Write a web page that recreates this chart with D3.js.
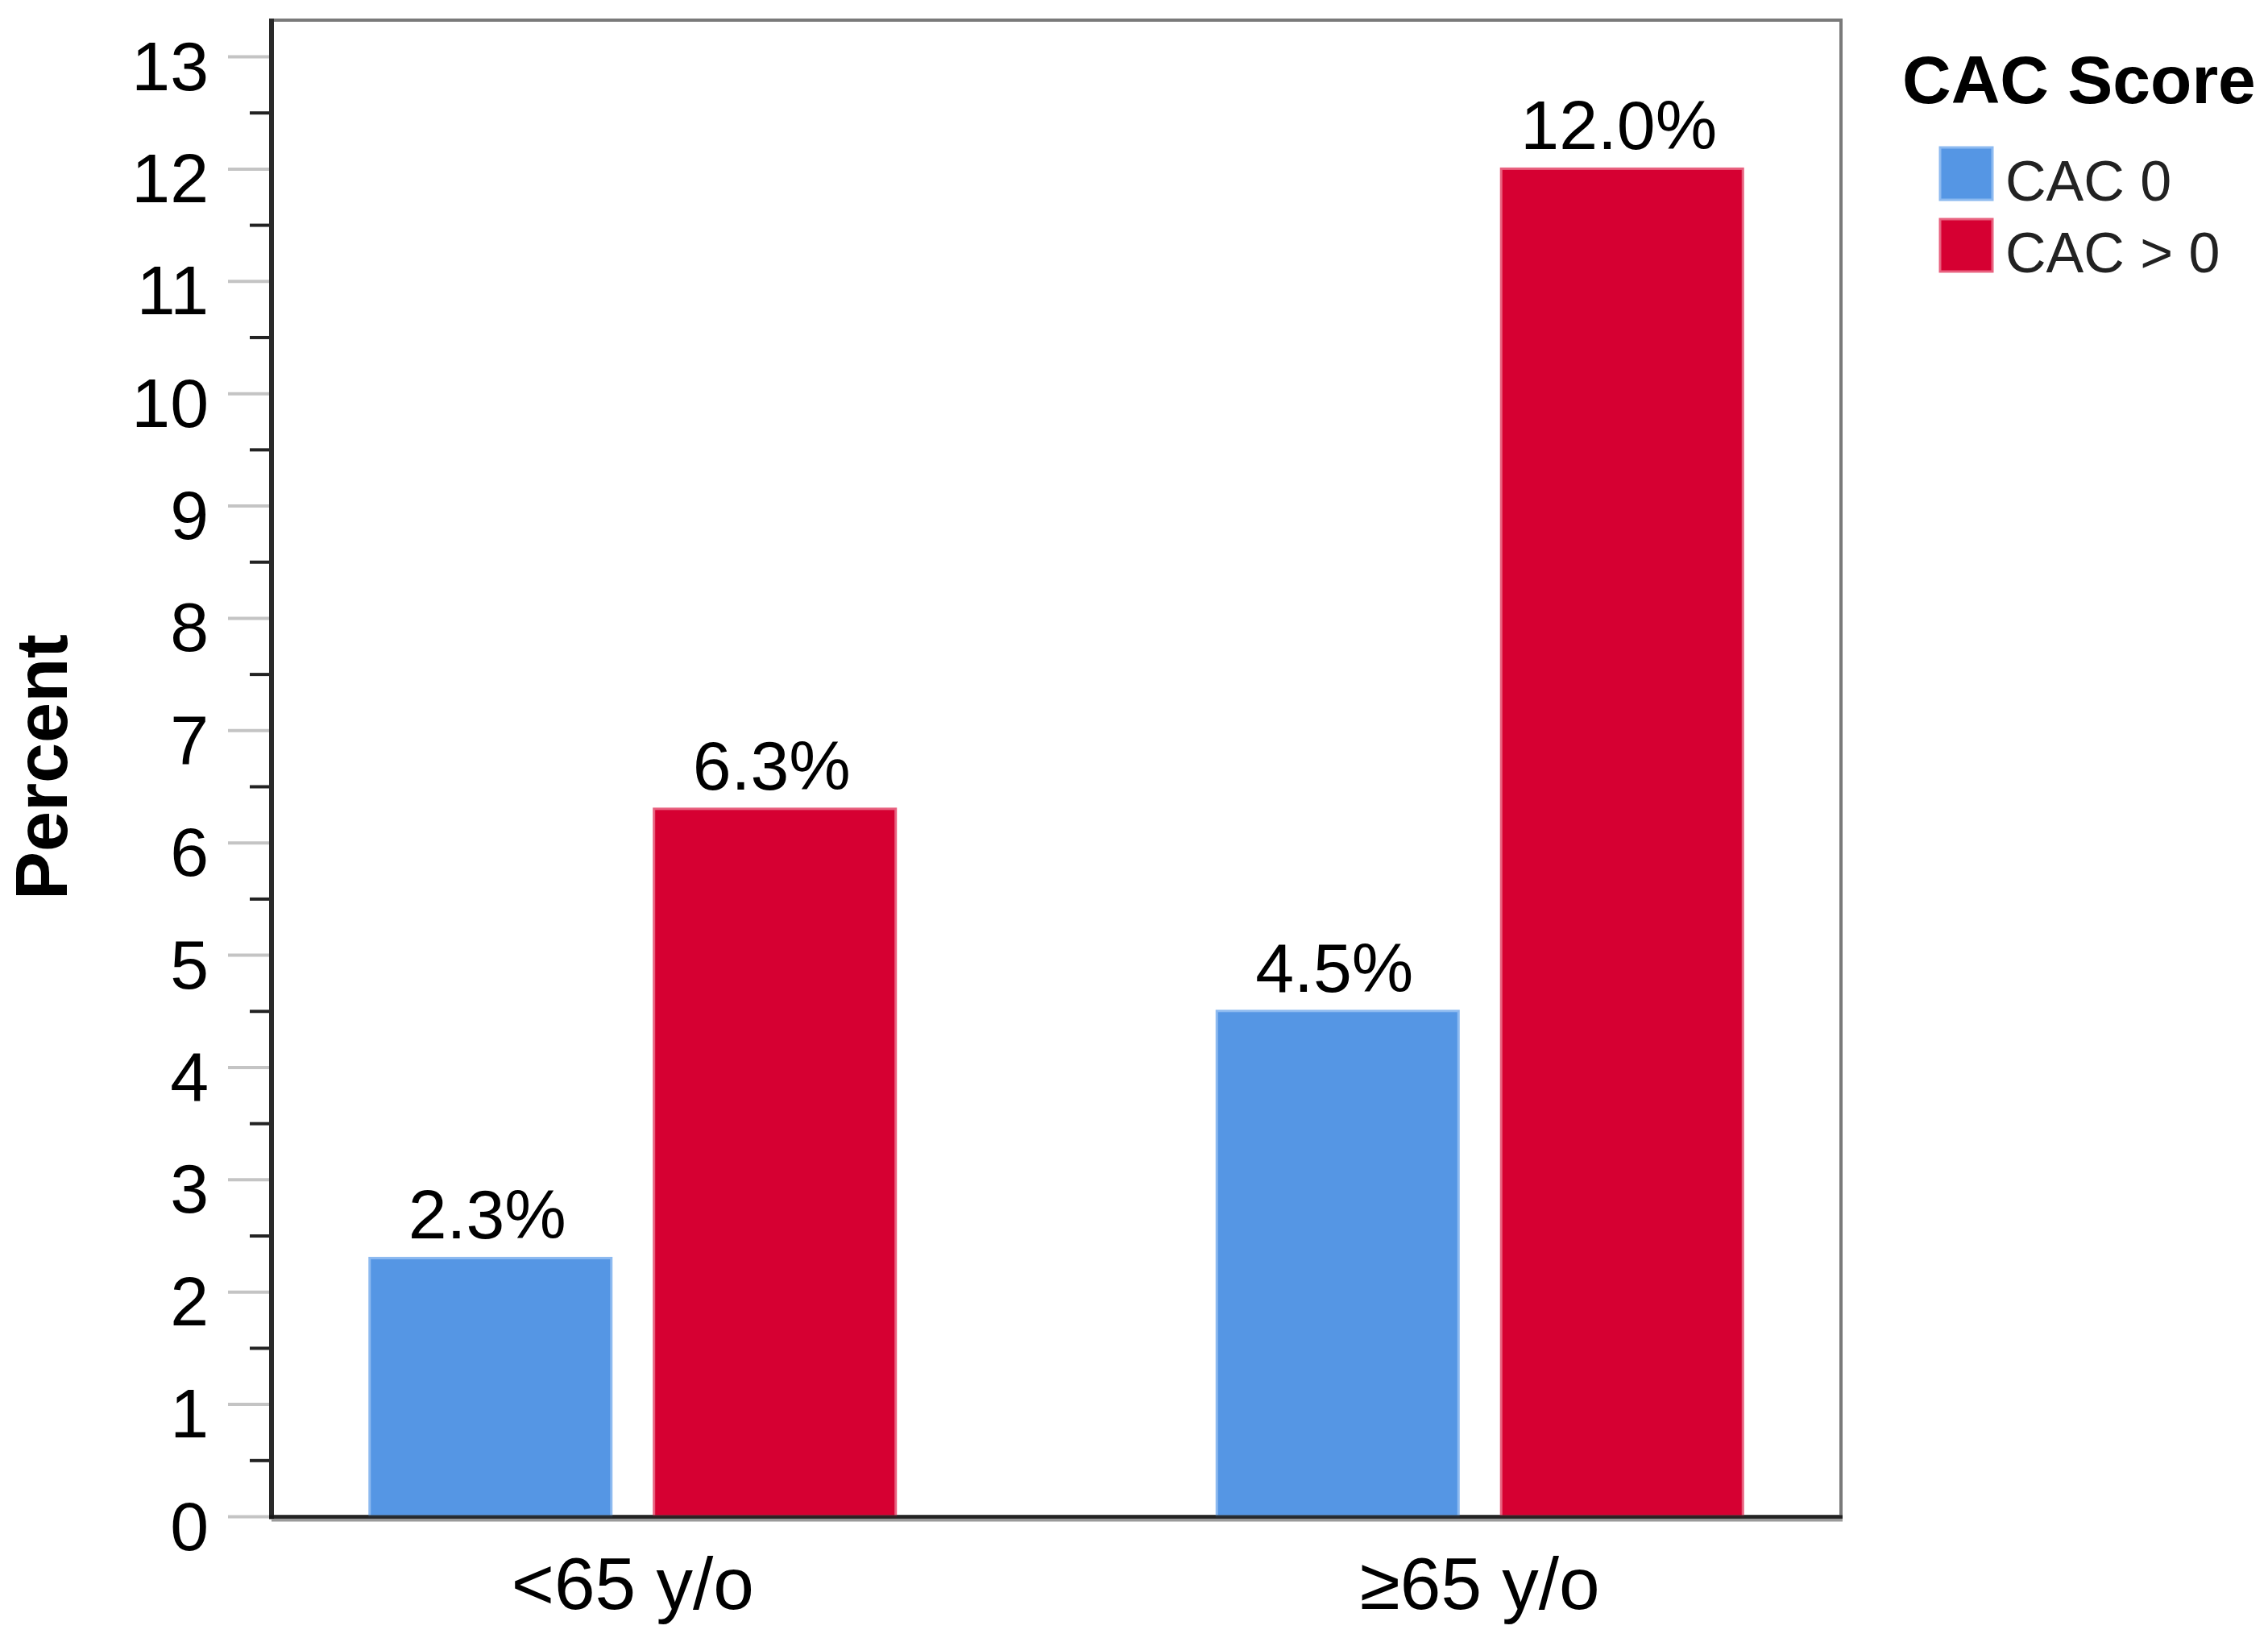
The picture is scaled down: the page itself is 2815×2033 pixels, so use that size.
<!DOCTYPE html>
<html>
<head>
<meta charset="utf-8">
<script src="https://cdn.jsdelivr.net/npm/d3@7"></script>
<style>
  html, body { margin: 0; padding: 0; background: #ffffff; }
  svg { display: block; }
  text { font-family: "Liberation Sans", Arial, sans-serif; }
</style>
</head>
<body>
<svg id="chart" width="2815" height="2033"></svg>
<script>
// ---- data ----
const categories = ["<65 y/o", "≥65 y/o"];
const seriesNames = ["CAC 0", "CAC > 0"];
const cac0Values = [2.3, 4.5];
const cacPositiveValues = [6.3, 12.0];
const majorTicks = [0,1,2,3,4,5,6,7,8,9,10,11,12,13];
const minorTicks = [0.5,1.5,2.5,3.5,4.5,5.5,6.5,7.5,8.5,9.5,10.5,11.5,12.5];
const legendTitle = "CAC Score";
const yTitle = "Percent";

const seriesValues = [cac0Values, cacPositiveValues];
const fills = ["#5596E4", "#D60032"];
const edges = ["#8DBAF0", "#E8617F"];

const svg = d3.select("#chart");
const W = 2815, H = 2033;
svg.append("rect").attr("width", W).attr("height", H).attr("fill", "#fff");

const plot = { left: 337, right: 2285, top: 25, bottom: 1882 };

const y = d3.scaleLinear().domain([0, 13]).range([plot.bottom, 70]);
const x0 = d3.scaleBand().domain(categories)
  .range([plot.left, plot.right]).paddingInner(0.379).paddingOuter(0.1158);
const x1 = d3.scaleBand().domain(seriesNames)
  .range([0, x0.bandwidth()]).paddingInner(0.15).paddingOuter(0);
const color = d3.scaleOrdinal().domain(seriesNames).range(fills);
const edge = d3.scaleOrdinal().domain(seriesNames).range(edges);

const data = [];
categories.forEach((c, i) => {
  seriesNames.forEach((s, j) => {
    data.push({ cat: c, series: s, value: seriesValues[j][i] });
  });
});

// frame (top/right border)
svg.append("rect")
  .attr("x", plot.left).attr("y", plot.top)
  .attr("width", plot.right - plot.left).attr("height", plot.bottom - plot.top)
  .attr("fill", "none").attr("stroke", "#7a7a7a").attr("stroke-width", 4);

// bars
svg.append("g").selectAll("rect").data(data).join("rect")
  .attr("x", d => x0(d.cat) + x1(d.series))
  .attr("y", d => y(d.value))
  .attr("width", x1.bandwidth())
  .attr("height", d => y(0) - y(d.value))
  .attr("fill", d => color(d.series))
  .attr("stroke", d => edge(d.series))
  .attr("stroke-width", 3);

// value labels
svg.append("g").selectAll("text").data(data).join("text")
  .attr("x", d => x0(d.cat) + x1(d.series) + x1.bandwidth() / 2 - 4)
  .attr("y", d => y(d.value) - 24)
  .attr("text-anchor", "middle")
  .attr("font-size", 86)
  .attr("fill", "#000")
  .text(d => d.value.toFixed(1) + "%");

// y axis major ticks
const yAxisG = svg.append("g")
  .attr("transform", `translate(${plot.left},0)`)
  .call(d3.axisLeft(y).tickValues(majorTicks).tickSize(54).tickPadding(24).tickFormat(d3.format("d")));
yAxisG.select(".domain").remove();
yAxisG.selectAll(".tick line").attr("stroke", "#c4c4c4").attr("stroke-width", 4);
yAxisG.selectAll(".tick text")
  .attr("font-size", 86).attr("fill", "#000")
  .attr("font-family", "'Liberation Sans', Arial, sans-serif")
  .attr("dy", 41);

// y axis minor ticks
const yMinorG = svg.append("g")
  .attr("transform", `translate(${plot.left},0)`)
  .call(d3.axisLeft(y).tickValues(minorTicks).tickSize(27).tickFormat(""));
yMinorG.select(".domain").remove();
yMinorG.selectAll(".tick line").attr("stroke", "#222").attr("stroke-width", 4);

// x axis labels
const xAxisG = svg.append("g")
  .attr("transform", `translate(0,${plot.bottom})`)
  .call(d3.axisBottom(x0).tickSize(0).tickPadding(0));
xAxisG.select(".domain").remove();
xAxisG.selectAll(".tick text")
  .attr("font-size", 91).attr("fill", "#000")
  .attr("font-family", "'Liberation Sans', Arial, sans-serif")
  .attr("y", 0).attr("dy", 115);

// axis lines (left & bottom), drawn over bars
svg.append("line")
  .attr("x1", plot.left).attr("x2", plot.left)
  .attr("y1", plot.top - 2).attr("y2", plot.bottom + 3)
  .attr("stroke", "#2a2a2a").attr("stroke-width", 6);
svg.append("line")
  .attr("x1", plot.left - 3).attr("x2", plot.right + 2)
  .attr("y1", plot.bottom + 1).attr("y2", plot.bottom + 1)
  .attr("stroke", "rgba(20,20,20,0.85)").attr("stroke-width", 5);
svg.append("line")
  .attr("x1", plot.left).attr("x2", plot.right + 2)
  .attr("y1", plot.bottom + 5).attr("y2", plot.bottom + 5)
  .attr("stroke", "#9a9a9a").attr("stroke-width", 3);

// y title
svg.append("text")
  .attr("transform", `translate(83,952) rotate(-90)`)
  .attr("text-anchor", "middle")
  .attr("font-size", 90).attr("font-weight", "bold").attr("fill", "#000")
  .text(yTitle);

// legend
const lg = svg.append("g");
lg.append("text")
  .attr("x", 2361).attr("y", 128)
  .attr("font-size", 84).attr("font-weight", "bold").attr("fill", "#000")
  .text(legendTitle);
const items = lg.selectAll("g.item").data(seriesNames).join("g")
  .attr("class", "item")
  .attr("transform", (d, i) => `translate(2408,${183 + i * 89})`);
items.append("rect")
  .attr("width", 65).attr("height", 65)
  .attr("fill", d => color(d))
  .attr("stroke", d => edge(d)).attr("stroke-width", 3);
items.append("text")
  .attr("x", 81).attr("y", 66)
  .attr("font-size", 70).attr("fill", "#222")
  .text(d => d);
</script>
</body>
</html>
